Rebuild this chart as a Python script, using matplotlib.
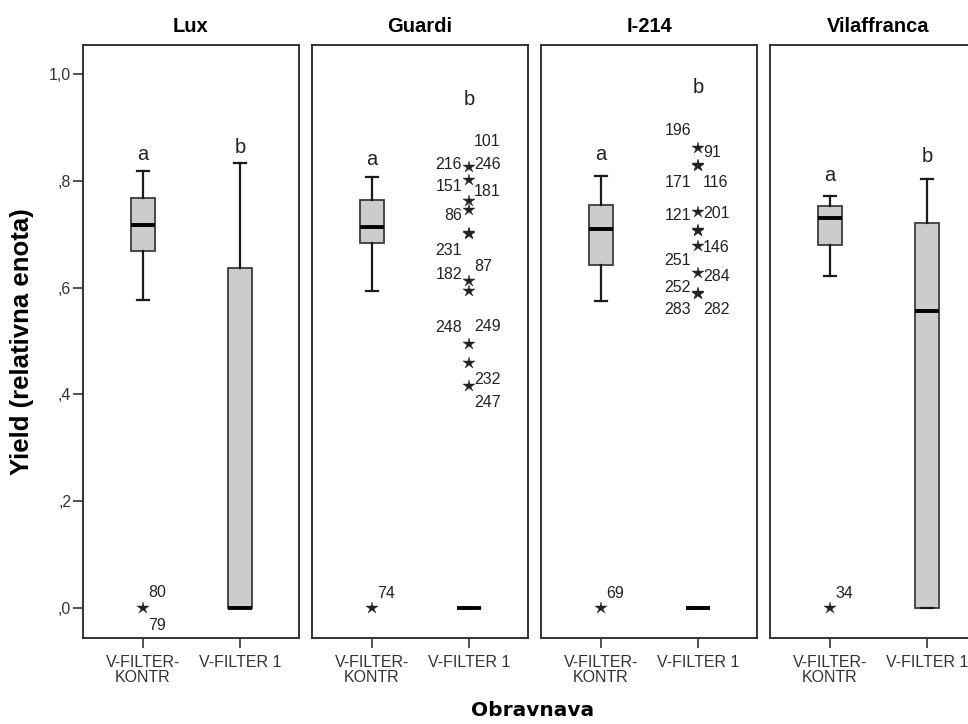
import matplotlib
matplotlib.use("Agg")
import matplotlib.pyplot as plt

plt.rcParams['font.family'] = ['Liberation Sans', 'DejaVu Sans']

panels = ["Lux", "Guardi", "I-214", "Vilaffranca"]
groups = ["V-FILTER-\nKONTR", "V-FILTER 1"]

# box stats: (whislo, q1, med, q3, whishi) for [KONTR, FILTER 1]
lux_stats = [(0.577, 0.668, 0.717, 0.767, 0.818), (0.0, 0.0, 0.0, 0.636, 0.833)]
guardi_stats = [(0.593, 0.684, 0.713, 0.764, 0.807), (0.0, 0.0, 0.0, 0.0, 0.0)]
i214_stats = [(0.574, 0.642, 0.710, 0.754, 0.809), (0.0, 0.0, 0.0, 0.0, 0.0)]
vila_stats = [(0.622, 0.680, 0.731, 0.753, 0.772), (0.0, 0.0, 0.556, 0.720, 0.803)]

# extreme values (stars)
lux_out = [[0.0], []]
guardi_out = [[0.0], [0.825, 0.802, 0.762, 0.745, 0.701, 0.703,
                      0.612, 0.593, 0.495, 0.459, 0.415]]
i214_out = [[0.0], [0.862, 0.827, 0.829, 0.741, 0.706, 0.708,
                    0.677, 0.628, 0.587, 0.589]]
vila_out = [[0.0], []]

# case numbers: (group, text, y, side)
lux_lab = [(0, "80", 0.030, "r"), (0, "79", -0.032, "r")]
guardi_lab = [(0, "74", 0.028, "r"),
              (1, "101", 0.873, "r"), (1, "216", 0.831, "l"), (1, "246", 0.831, "r"),
              (1, "151", 0.790, "l"), (1, "181", 0.779, "r"), (1, "86", 0.734, "l"),
              (1, "231", 0.670, "l"), (1, "87", 0.640, "r"), (1, "182", 0.625, "l"),
              (1, "248", 0.525, "l"), (1, "249", 0.528, "r"), (1, "232", 0.428, "r"),
              (1, "247", 0.385, "r")]
i214_lab = [(0, "69", 0.028, "r"),
            (1, "196", 0.894, "l"), (1, "91", 0.853, "r"), (1, "171", 0.797, "l"),
            (1, "116", 0.797, "r"), (1, "121", 0.734, "l"), (1, "201", 0.739, "r"),
            (1, "146", 0.675, "r"), (1, "251", 0.650, "l"), (1, "284", 0.620, "r"),
            (1, "252", 0.600, "l"), (1, "283", 0.559, "l"), (1, "282", 0.559, "r")]
vila_lab = [(0, "34", 0.028, "r")]

# significance letters: (text, baseline y) for [KONTR, FILTER 1]
lux_let = [("a", 0.839), ("b", 0.852)]
guardi_let = [("a", 0.830), ("b", 0.942)]
i214_let = [("a", 0.839), ("b", 0.964)]
vila_let = [("a", 0.800), ("b", 0.835)]

all_stats = [lux_stats, guardi_stats, i214_stats, vila_stats]
all_out = [lux_out, guardi_out, i214_out, vila_out]
all_lab = [lux_lab, guardi_lab, i214_lab, vila_lab]
all_let = [lux_let, guardi_let, i214_let, vila_let]

yticks = [0.0, 0.2, 0.4, 0.6, 0.8, 1.0]
ytick_labels = [",0", ",2", ",4", ",6", ",8", "1,0"]

W, H = 968, 724
fig = plt.figure(figsize=(W / 100, H / 100), dpi=100)

frame_col = "#333333"
left0 = 83
pw = 216
gap = 13
top_px, bot_px = 45, 638

for i, name in enumerate(panels):
    x0 = left0 + i * (pw + gap)
    ax = fig.add_axes([x0 / W, 1 - bot_px / H, pw / W, (bot_px - top_px) / H])
    stats = []
    for g in range(2):
        lo, q1, med, q3, hi = all_stats[i][g]
        stats.append(dict(whislo=lo, q1=q1, med=med, q3=q3, whishi=hi, fliers=[]))
    ax.bxp(stats, positions=[1, 2], widths=0.25, capwidths=0.13, patch_artist=True,
           showfliers=False,
           boxprops=dict(facecolor="#cccccc", edgecolor="#3c3c3c", linewidth=1.3),
           medianprops=dict(color="black", linewidth=2.8, solid_capstyle="butt"),
           whiskerprops=dict(color="#1a1a1a", linewidth=1.6),
           capprops=dict(color="#1a1a1a", linewidth=1.6))
    for g in range(2):
        vals = all_out[i][g]
        if vals:
            ax.plot([g + 1] * len(vals), vals, linestyle="none", marker="*",
                    markersize=9, color="#222222", markeredgewidth=0.3)
    for g, txt, yv, side in all_lab[i]:
        if side == "r":
            ax.annotate(txt, (g + 1, yv), xytext=(5, 0), textcoords="offset pixels",
                        ha="left", va="center", fontsize=11.5, color="#222222")
        else:
            ax.annotate(txt, (g + 1, yv), xytext=(-7, 0), textcoords="offset pixels",
                        ha="right", va="center", fontsize=11.5, color="#222222")
    for g, (txt, yv) in enumerate(all_let[i]):
        ax.text(g + 1, yv, txt, ha="center", va="baseline", fontsize=14.5, color="#222222")

    ax.set_xlim(0.38, 2.61)
    ax.set_ylim(-0.056, 1.054)
    ax.set_xticks([1, 2])
    ax.set_xticklabels(groups, fontsize=11.5, color="#333333", linespacing=1.0)
    ax.tick_params(axis="x", length=7, width=1.2, color=frame_col, pad=5)
    if i == 0:
        ax.set_yticks(yticks)
        ax.set_yticklabels(ytick_labels, fontsize=11.5, color="#333333")
        ax.tick_params(axis="y", length=7, width=1.2, color=frame_col, pad=1.5)
        ax.set_ylabel("Yield (relativna enota)", fontsize=18.5, fontweight="bold")
        ax.yaxis.set_label_coords(-0.225, 0.5)
    else:
        ax.set_yticks([])
    for sp in ax.spines.values():
        sp.set_color(frame_col)
        sp.set_linewidth(1.4)
    ax.set_title(name, fontsize=14.5, fontweight="bold", pad=9)

fig.text(533 / W, 1 - 710 / H, "Obravnava", ha="center", va="center",
         fontsize=14.5, fontweight="bold", family=["DejaVu Sans"])

fig.savefig("out.png", dpi=100)
